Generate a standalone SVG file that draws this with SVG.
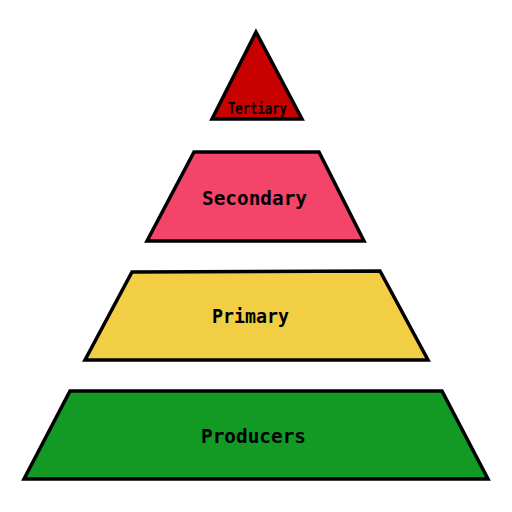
<svg xmlns="http://www.w3.org/2000/svg" width="512" height="512" viewBox="0 0 512 512">
<style>
.lvl{stroke:#000;stroke-width:3.5;stroke-linejoin:miter}
.lbl{font-family:"DejaVu Sans Mono","Liberation Mono",monospace;font-weight:bold;fill:#000;text-anchor:middle;dominant-baseline:central}
</style>
<rect width="512" height="512" fill="#fff"/>
<g id="tertiary">
<polygon class="lvl" fill="#C80000" points="256,32 212,119 302,119"/>
<text class="lbl" x="257.5" y="108.5" font-size="15" textLength="59" lengthAdjust="spacingAndGlyphs">Tertiary</text>
</g>
<g id="secondary">
<polygon class="lvl" fill="#F4446A" points="194,152 319,152 364,241 147,241"/>
<text class="lbl" x="254.5" y="197.5" font-size="19" textLength="105" lengthAdjust="spacingAndGlyphs">Secondary</text>
</g>
<g id="primary">
<polygon class="lvl" fill="#F2CE44" points="132,272 380,271 428,360 85,360"/>
<text class="lbl" x="250.5" y="315.5" font-size="19" textLength="77" lengthAdjust="spacingAndGlyphs">Primary</text>
</g>
<g id="producers">
<polygon class="lvl" fill="#129A25" points="70,391 442,391 488,479 24,479"/>
<text class="lbl" x="253.5" y="436" font-size="19" textLength="105" lengthAdjust="spacingAndGlyphs">Producers</text>
</g>
<g id="connectors"></g>
</svg>
